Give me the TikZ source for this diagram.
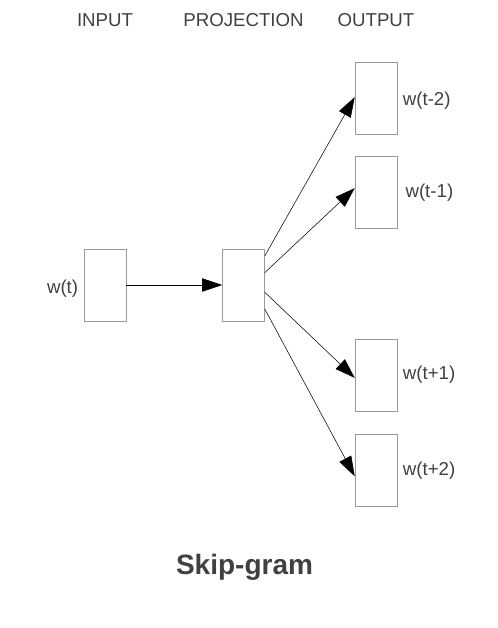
\documentclass[tikz,border=0pt]{standalone}
\usepackage{fontspec}
\setmainfont{Liberation Sans}
\usepackage{tikz}
\usetikzlibrary{calc}
\usetikzlibrary{positioning}
\usetikzlibrary{arrows.meta}

\begin{document}
\begin{tikzpicture}
		[
		x=0.75pt, y=-0.75pt,
		font=\fontsize{14}{16}\selectfont,
		every edge/.style={draw,-{Triangle[length=15pt,width=10pt]}}
		]
		
		% Styles: layer box and labels
		\tikzstyle{layer box}=[rectangle,draw=black!40,minimum width=31.5pt,minimum height=54pt,inner sep=0];
		\tikzstyle{word}=[text=black!75,inner sep=3pt];
		\tikzstyle{head}=[text=black!75,inner sep=0];
		
		\useasboundingbox (0,0) rectangle (498,628);
		
		% The boxes
		\node(in)[layer box]at(105,285){};
		\node(proj)[layer box]at(243.5,285){};
		\node(out1)[layer box]at(376,98.5){};
		\node(out2)[layer box]at(376,192.5){};
		\node(out3)[layer box]at(376,375){};
		\node(out4)[layer box]at(376,470.5){};
		
		% Headers
		\node(hin)[head]at(in |- 0,20){INPUT};
		\node(hproj)[head]at(proj |- 0,20){PROJECTION};
		\node(hout)[head]at(out1 |- 0,20){OUTPUT};
		
		% Input to projection
		\draw(in.east)edge(proj.west);
		
		% Projection to outputs
		\draw($(proj.north east)!0.10!(proj.south east)$)edge($(out1.north west)!0.48!(out1.south west)$);
		\draw($(proj.north east)!0.33!(proj.south east)$)edge($(out2.north west)!0.44!(out2.south west)$);
		\draw($(proj.north east)!0.60!(proj.south east)$)edge($(out3.north west)!0.54!(out3.south west)$);
		\draw($(proj.north east)!0.83!(proj.south east)$)edge($(out4.north west)!0.58!(out4.south west)$);
		
		% Words
		\node(win)[word,left=1pt of in,yshift=-3pt]{w(t)};
		\node(wout1)[word,right=1pt of out1,yshift=-2pt]{w(t-2)};
		\node(wout2)[word,right=3pt of out2]{w(t-1)};
		\node(wout3)[word,right=1pt of out3]{w(t+1)};
		\node(wout4)[word,right=1pt of out4]{w(t+2)};
		
		% Title
		\node(title)[head,font=\fontsize{21}{25}\selectfont\bfseries]at(244.5,567){Skip-gram};
		
		\end{tikzpicture}
\end{document}
